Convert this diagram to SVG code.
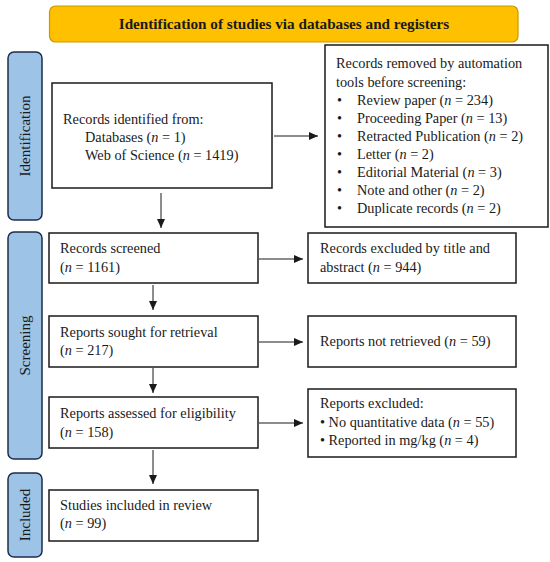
<svg xmlns="http://www.w3.org/2000/svg" width="550" height="562" viewBox="0 0 550 562">
<style>
text{font-family:"Liberation Serif","DejaVu Serif",serif;font-size:14.3px;fill:#1a1a1a}
.box{fill:#fff;stroke:#1a1a1a;stroke-width:1.5}
.tab{fill:#9dc3e6;stroke:#1f2d4d;stroke-width:1.5}
.tabt{font-size:15px;text-anchor:middle}
.c{stroke:#1a1a1a;stroke-width:1;fill:none;marker-end:url(#ah)}
</style>
<defs>
<marker id="ah" viewBox="0 0 9 8" refX="9" refY="4" markerWidth="9" markerHeight="8" markerUnits="userSpaceOnUse" orient="auto">
<path d="M0,0 L9,4 L0,8 z" fill="#1a1a1a"/>
</marker>
</defs>
<g id="title">
<rect x="49.5" y="6" width="468.5" height="36" rx="6" fill="#ffc000" stroke="#c89a00" stroke-width="1.2"/>
<text x="284" y="29" text-anchor="middle" style="font-weight:bold;font-size:15.2px">Identification of studies via databases and registers</text>
</g>
<g id="tab-identification">
<rect class="tab" x="8" y="52" width="34" height="168" rx="6"/>
<text class="tabt" transform="translate(30,136) rotate(-90)">Identification</text>
</g>
<g id="tab-screening">
<rect class="tab" x="8" y="232" width="34" height="227" rx="6"/>
<text class="tabt" transform="translate(30,345.5) rotate(-90)">Screening</text>
</g>
<g id="tab-included">
<rect class="tab" x="8" y="473" width="34" height="84" rx="6"/>
<text class="tabt" transform="translate(30,515) rotate(-90)">Included</text>
</g>
<g id="identified">
<rect class="box" x="52" y="83" width="220" height="105"/>
<text x="63" y="124">Records identified from:</text>
<text x="85" y="142">Databases (<tspan font-style="italic">n</tspan> = 1)</text>
<text x="85" y="160">Web of Science (<tspan font-style="italic">n</tspan> = 1419)</text>
</g>
<g id="removed">
<rect class="box" x="325" y="45" width="223" height="182"/>
<text x="336" y="68">Records removed by automation</text>
<text x="336" y="87">tools before screening:</text>
<g>
<text x="337" y="105">•</text><text x="357" y="105">Review paper (<tspan font-style="italic">n</tspan> = 234)</text>
<text x="337" y="123">•</text><text x="357" y="123">Proceeding Paper (<tspan font-style="italic">n</tspan> = 13)</text>
<text x="337" y="141">•</text><text x="357" y="141">Retracted Publication (<tspan font-style="italic">n</tspan> = 2)</text>
<text x="337" y="159">•</text><text x="357" y="159">Letter (<tspan font-style="italic">n</tspan> = 2)</text>
<text x="337" y="177">•</text><text x="357" y="177">Editorial Material (<tspan font-style="italic">n</tspan> = 3)</text>
<text x="337" y="195">•</text><text x="357" y="195">Note and other (<tspan font-style="italic">n</tspan> = 2)</text>
<text x="337" y="213">•</text><text x="357" y="213">Duplicate records (<tspan font-style="italic">n</tspan> = 2)</text>
</g>
</g>
<g id="screened">
<rect class="box" x="49" y="233" width="209" height="50"/>
<text x="60" y="253">Records screened</text>
<text x="60" y="272">(<tspan font-style="italic">n</tspan> = 1161)</text>
</g>
<g id="excluded-title">
<rect class="box" x="308" y="233" width="208" height="50"/>
<text x="320" y="253">Records excluded by title and</text>
<text x="320" y="272">abstract (<tspan font-style="italic">n</tspan> = 944)</text>
</g>
<g id="sought">
<rect class="box" x="49" y="316" width="209" height="51"/>
<text x="60" y="337">Reports sought for retrieval</text>
<text x="60" y="355">(<tspan font-style="italic">n</tspan> = 217)</text>
</g>
<g id="not-retrieved">
<rect class="box" x="308" y="316" width="208" height="51"/>
<text x="320" y="346">Reports not retrieved (<tspan font-style="italic">n</tspan> = 59)</text>
</g>
<g id="assessed">
<rect class="box" x="49" y="397" width="209" height="51"/>
<text x="60" y="418">Reports assessed for eligibility</text>
<text x="60" y="437">(<tspan font-style="italic">n</tspan> = 158)</text>
</g>
<g id="excluded-reports">
<rect class="box" x="308" y="389" width="208" height="68"/>
<text x="320" y="408">Reports excluded:</text>
<text x="320" y="427">• No quantitative data (<tspan font-style="italic">n</tspan> = 55)</text>
<text x="320" y="445">• Reported in mg/kg (<tspan font-style="italic">n</tspan> = 4)</text>
</g>
<g id="included">
<rect class="box" x="49" y="490" width="209" height="51"/>
<text x="60" y="510">Studies included in review</text>
<text x="60" y="528">(<tspan font-style="italic">n</tspan> = 99)</text>
</g>
<g id="connectors">
<line class="c" x1="274" y1="136" x2="318" y2="136"/>
<line class="c" x1="161" y1="193" x2="161" y2="228"/>
<line class="c" x1="259" y1="259" x2="303" y2="259"/>
<line class="c" x1="153" y1="285" x2="153" y2="310"/>
<line class="c" x1="259" y1="342" x2="303" y2="342"/>
<line class="c" x1="153" y1="368" x2="153" y2="393"/>
<line class="c" x1="259" y1="423" x2="303" y2="423"/>
<line class="c" x1="153" y1="450" x2="153" y2="484"/>
</g>
</svg>
